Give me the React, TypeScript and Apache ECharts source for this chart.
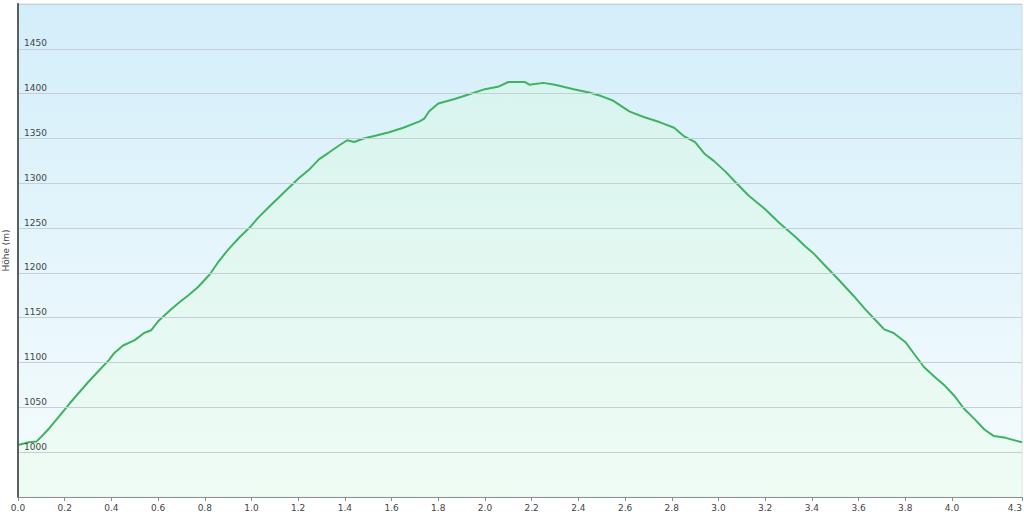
import React, { useEffect, useRef } from "react";
import * as echarts from "echarts";

const distanceKm = [
  0.0, 0.047, 0.08, 0.11, 0.135, 0.176, 0.22, 0.26, 0.3, 0.35, 0.39, 0.41, 0.45, 0.5, 0.54, 0.57,
  0.6, 0.65, 0.69, 0.73, 0.77, 0.82, 0.86, 0.9, 0.95, 0.99, 1.03, 1.08, 1.12, 1.16, 1.2, 1.25,
  1.29, 1.33, 1.38, 1.41, 1.44, 1.48, 1.53, 1.59, 1.65, 1.72, 1.74, 1.76, 1.8, 1.87, 1.93, 2.0,
  2.06, 2.1, 2.17, 2.19, 2.25, 2.3, 2.38, 2.45, 2.49, 2.55, 2.62, 2.68, 2.75, 2.81, 2.85, 2.9,
  2.94, 2.98, 3.03, 3.07, 3.13, 3.2, 3.26, 3.33, 3.37, 3.41, 3.45, 3.52, 3.58, 3.63, 3.67, 3.71,
  3.75, 3.8, 3.84, 3.88, 3.93, 3.97, 4.01, 4.05, 4.1, 4.14, 4.18, 4.23, 4.3,
];

const elevationM = [
  1008, 1011, 1012, 1020, 1027, 1040, 1054, 1066, 1078, 1092, 1103, 1110, 1119, 1125, 1133, 1136,
  1146, 1158, 1167, 1175, 1184, 1198, 1213, 1226, 1240, 1250, 1262, 1275, 1285, 1295, 1305, 1316,
  1327, 1334, 1343, 1348, 1346, 1350, 1353, 1357, 1362, 1369, 1372, 1380, 1389, 1394, 1399, 1405,
  1408, 1413, 1413, 1410, 1412, 1410, 1405, 1401, 1398, 1392, 1380, 1374, 1368, 1362, 1353, 1346,
  1333, 1325, 1313, 1302, 1286, 1271, 1256, 1240, 1230, 1221, 1210, 1191, 1174, 1159, 1148, 1137,
  1133, 1123, 1109, 1095, 1083, 1074, 1063, 1049, 1036, 1025, 1018, 1016, 1011,
];

const xTickValues = [
  0.0, 0.2, 0.4, 0.6, 0.8, 1.0, 1.2, 1.4, 1.6, 1.8, 2.0, 2.2, 2.4, 2.6, 2.8, 3.0, 3.2, 3.4, 3.6,
  3.8, 4.0, 4.3,
];

const yLabelValues = [1000, 1050, 1100, 1150, 1200, 1250, 1300, 1350, 1400, 1450];

export default function App() {
  const ref = useRef<HTMLDivElement>(null);

  useEffect(() => {
    if (!ref.current) return;
    const chart = echarts.init(ref.current, undefined, { renderer: "svg" });
    const data = distanceKm.map((d, i) => [d, elevationM[i]]);
    const font = "DejaVu Sans, Verdana, sans-serif";
    chart.setOption({
      animation: false,
      grid: {
        left: 18,
        right: 2,
        top: 4,
        bottom: 22,
        outerBoundsMode: "none",
        containLabel: false,
        show: true,
        borderColor: "#d4dadd",
        borderWidth: 1,
        backgroundColor: new echarts.graphic.LinearGradient(0, 0, 0, 1, [
          { offset: 0, color: "#d3eefa" },
          { offset: 1, color: "#f6fcfd" },
        ]),
      },
      xAxis: {
        type: "value",
        min: 0,
        max: 4.3,
        z: 3,
        axisLine: { show: true, lineStyle: { color: "#8a8f92", width: 1 } },
        axisTick: {
          show: true,
          length: 4,
          lineStyle: { color: "#8a8f92" },
          customValues: xTickValues,
        },
        axisLabel: {
          customValues: xTickValues,
          formatter: (v: number) => v.toFixed(1),
          color: "#444",
          fontFamily: font,
          fontSize: 9,
          margin: 6,
          alignMaxLabel: "right",
        },
        splitLine: { show: false },
      },
      yAxis: {
        type: "value",
        min: 950,
        max: 1500,
        interval: 50,
        z: 3,
        name: "Höhe (m)",
        nameLocation: "middle",
        nameRotate: 90,
        nameGap: 1,
        nameTextStyle: { color: "#444", fontFamily: font, fontSize: 9 },
        axisLine: { show: true, lineStyle: { color: "#5a5f62", width: 2 } },
        axisTick: { show: false },
        axisLabel: {
          inside: true,
          margin: 6,
          color: "#444",
          fontFamily: font,
          fontSize: 9,
          verticalAlign: "bottom",
          padding: [0, 0, 1, 0],
          formatter: (v: number) => (yLabelValues.indexOf(v) >= 0 ? String(v) : ""),
        },
        splitLine: { show: true, lineStyle: { color: "#c5d0d4", width: 1 } },
      },
      series: [
        {
          type: "line",
          data,
          showSymbol: false,
          smooth: false,
          z: 2,
          lineStyle: { color: "#40b262", width: 2 },
          areaStyle: {
            origin: "start",
            color: new echarts.graphic.LinearGradient(0, 0, 0, 1, [
              { offset: 0, color: "rgba(215,246,232,0.95)" },
              { offset: 1, color: "rgba(236,252,240,0.95)" },
            ]),
          },
        },
      ],
    });
    return () => chart.dispose();
  }, []);

  return (
    <div
      ref={ref}
      style={{ position: "absolute", left: 0, top: 0, width: 1024, height: 519 }}
    />
  );
}
